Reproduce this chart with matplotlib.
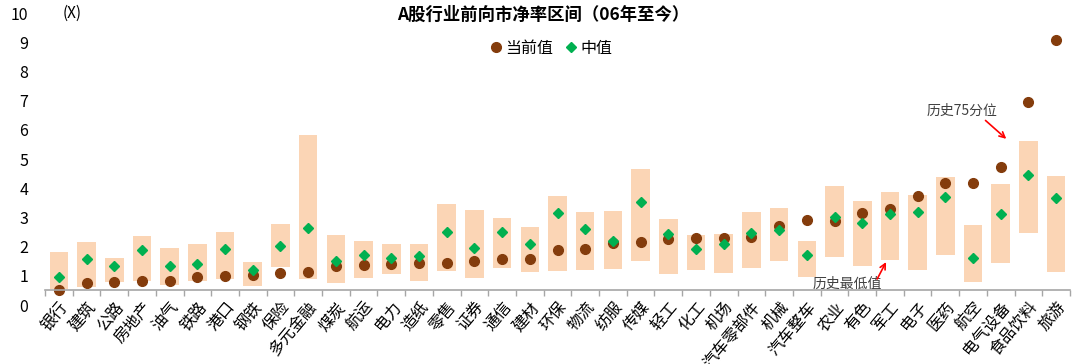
import numpy as np
import matplotlib.pyplot as plt
from matplotlib.lines import Line2D

plt.rcParams['font.family'] = ['Noto Sans CJK SC', 'DejaVu Sans']

industries = ['银行', '建筑', '公路', '房地产', '油气', '铁路', '港口', '钢铁', '保险', '多元金融',
              '煤炭', '航运', '电力', '造纸', '零售', '证券', '通信', '建材', '环保', '物流',
              '纺服', '传媒', '轻工', '化工', '机场', '汽车零部件', '机械', '汽车整车', '农业', '有色',
              '军工', '电子', '医药', '航空', '电气设备', '食品饮料', '旅游']
# 历史最低值
hist_min = [0.54, 0.63, 0.79, 0.82, 0.67, 0.83, 0.90, 0.65, 1.29, 0.89,
            0.77, 0.91, 1.06, 0.83, 1.18, 0.91, 1.26, 1.12, 1.18, 1.20,
            1.25, 1.52, 1.05, 1.20, 1.11, 1.26, 1.49, 0.95, 1.66, 1.35,
            1.54, 1.20, 1.70, 0.80, 1.43, 2.46, 1.12]
# 历史75分位
hist_p75 = [1.83, 2.16, 1.62, 2.37, 1.94, 2.10, 2.50, 1.46, 2.77, 5.83,
            2.40, 2.20, 2.08, 2.08, 3.46, 3.25, 2.97, 2.66, 3.74, 3.18,
            3.22, 4.66, 2.96, 2.39, 2.43, 3.20, 3.31, 2.18, 4.06, 3.57,
            3.86, 3.78, 4.38, 2.73, 4.16, 5.61, 4.43]
# 中值
median = [0.95, 1.57, 1.35, 1.89, 1.33, 1.39, 1.91, 1.20, 2.02, 2.65,
          1.52, 1.71, 1.60, 1.68, 2.49, 1.94, 2.49, 2.08, 3.14, 2.59,
          2.20, 3.53, 2.42, 1.91, 2.08, 2.46, 2.57, 1.71, 3.03, 2.82,
          3.12, 3.19, 3.71, 1.60, 3.12, 4.46, 3.67]
# 当前值
current = [0.51, 0.74, 0.79, 0.81, 0.83, 0.95, 0.99, 1.02, 1.11, 1.14,
           1.35, 1.36, 1.41, 1.45, 1.45, 1.51, 1.58, 1.58, 1.89, 1.93,
           2.11, 2.16, 2.27, 2.31, 2.31, 2.34, 2.71, 2.91, 2.89, 3.14,
           3.28, 3.74, 4.18, 4.18, 4.72, 6.95, 9.07]

x = np.arange(len(industries))
lo = np.array(hist_min)
hi = np.array(hist_p75)

fig = plt.figure(figsize=(10.8, 3.64), dpi=100)
ax = fig.add_axes([45/1080, 59/364, 1025/1080, 292/364])

ax.bar(x, hi - lo, bottom=lo, width=0.67, color='#FBD5B5', zorder=1)
ax.plot(x, current, linestyle='none', marker='o', markersize=7, color='#843C0C', zorder=2)
ax.plot(x, median, linestyle='none', marker='D', markersize=5.5, color='#00B050', zorder=3)

ax.set_xlim(-0.5, len(industries) - 0.5)
ax.set_ylim(0, 10)
ax.set_yticks(range(0, 11))
ax.tick_params(axis='y', length=0, pad=12, labelsize=11.5)
for s in ['top', 'right', 'left']:
    ax.spines[s].set_visible(False)
ax.spines['bottom'].set_position(('data', 0.5))
ax.spines['bottom'].set_color('#A6A6A6')
ax.spines['bottom'].set_linewidth(1.2)

ax.set_xticks(x)
ax.set_xticklabels(industries, rotation=50, ha='right', va='top', rotation_mode='anchor', fontsize=11.5)
ax.tick_params(axis='x', which='major', length=0, pad=6)
ax.set_xticks(np.arange(len(industries) + 1) - 0.5, minor=True)
ax.tick_params(axis='x', which='minor', length=4, color='#A6A6A6', width=1)

fig.text(72/1080, 1 - 13/364, '(X)', fontsize=11, ha='center', va='center')
fig.text(543/1080, 1 - 15/364, 'A股行业前向市净率区间（06年至今）', fontsize=12.5,
         fontweight='bold', ha='center', va='center')

handles = [Line2D([], [], linestyle='none', marker='o', markersize=7, color='#843C0C'),
           Line2D([], [], linestyle='none', marker='D', markersize=5.5, color='#00B050')]
ax.legend(handles, ['当前值', '中值'], loc='center', bbox_to_anchor=(505/1025, (305-48)/292),
          ncol=2, frameon=False, fontsize=11.5, handletextpad=0.1, columnspacing=0.6,
          handlelength=1.0)

ax.text(32.6, 6.65, '历史75分位', fontsize=10, color='#404040', ha='center', va='center')
ax.annotate('', xy=(34.2, 5.69), xytext=(33.45, 6.32),
            arrowprops=dict(arrowstyle='->', color='red', lw=1.2, shrinkA=0, shrinkB=0))
ax.text(28.45, 0.72, '历史最低值', fontsize=10, color='#404040', ha='center', va='center')
ax.annotate('', xy=(29.86, 1.47), xytext=(29.54, 0.89),
            arrowprops=dict(arrowstyle='->', color='red', lw=1.2, shrinkA=0, shrinkB=0))

fig.savefig('out.png', dpi=100)
